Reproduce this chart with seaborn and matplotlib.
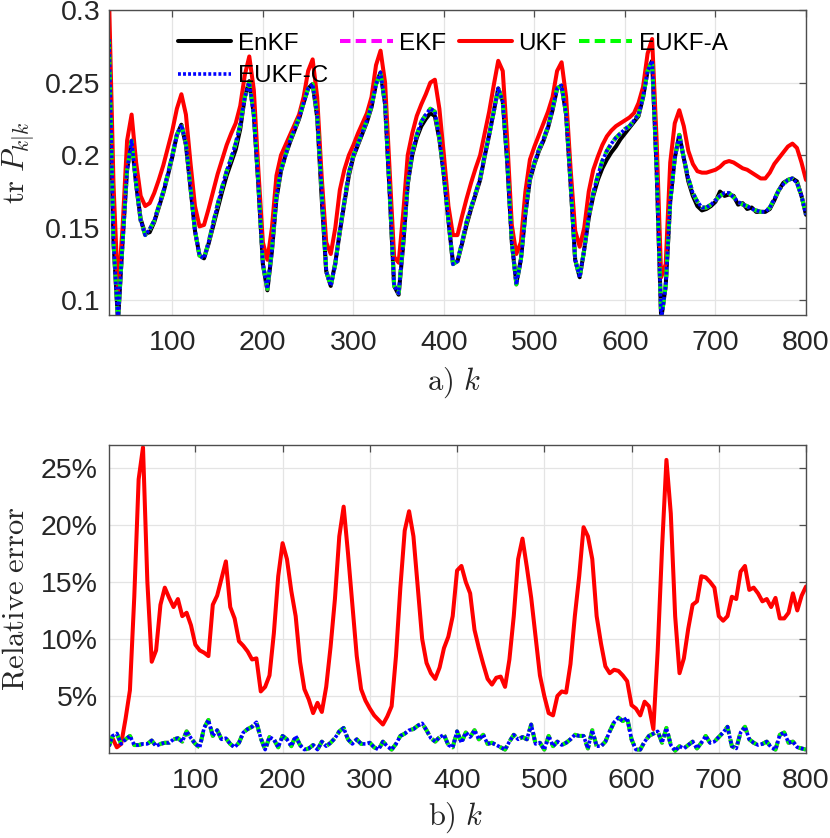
import numpy as np
import pandas as pd
import seaborn as sns
import matplotlib
matplotlib.use("Agg")
import matplotlib.pyplot as plt
from matplotlib.ticker import FuncFormatter

# ---------------- data ----------------
# top panel: trace of P_{k|k}, k = 30..800 step 5
k_top = list(range(30, 801, 5))

enkf_tr = [
    0.28, 0.14, 0.086, 0.14, 0.19, 0.21, 0.18, 0.156, 0.146, 0.147,
    0.154, 0.164, 0.174, 0.186, 0.199, 0.214, 0.221, 0.207, 0.178, 0.148,
    0.131, 0.129, 0.139, 0.151, 0.163, 0.175, 0.186, 0.195, 0.204, 0.218,
    0.24, 0.251, 0.228, 0.18, 0.125, 0.107, 0.134, 0.17, 0.189, 0.2,
    0.209, 0.217, 0.225, 0.236, 0.246, 0.249, 0.226, 0.17, 0.12, 0.11,
    0.126, 0.147, 0.167, 0.186, 0.199, 0.207, 0.215, 0.223, 0.233, 0.249,
    0.257, 0.235, 0.175, 0.11, 0.104, 0.138, 0.18, 0.2, 0.212, 0.22,
    0.225, 0.229, 0.227, 0.211, 0.186, 0.155, 0.126, 0.127, 0.139, 0.152,
    0.163, 0.173, 0.183, 0.199, 0.214, 0.23, 0.246, 0.237, 0.195, 0.14,
    0.112, 0.128, 0.16, 0.183, 0.194, 0.203, 0.21, 0.219, 0.231, 0.246,
    0.248, 0.228, 0.18, 0.128, 0.116, 0.135, 0.157, 0.172, 0.183, 0.191,
    0.197, 0.202, 0.206, 0.211, 0.215, 0.219, 0.223, 0.227, 0.24, 0.258,
    0.265, 0.19, 0.087, 0.11, 0.168, 0.198, 0.214, 0.198, 0.182, 0.172,
    0.165, 0.162, 0.163, 0.165, 0.168, 0.175, 0.172, 0.173, 0.172, 0.166,
    0.167, 0.163, 0.164, 0.161, 0.161, 0.161, 0.163, 0.169, 0.176, 0.181,
    0.183, 0.184, 0.182, 0.172, 0.159,
]

ekf_tr = [
    0.28, 0.14, 0.086, 0.14, 0.19, 0.21, 0.18, 0.155, 0.145, 0.149,
    0.155, 0.165, 0.175, 0.187, 0.2, 0.214, 0.221, 0.208, 0.178, 0.148,
    0.131, 0.129, 0.14, 0.153, 0.166, 0.178, 0.189, 0.198, 0.208, 0.221,
    0.24, 0.25, 0.228, 0.18, 0.125, 0.108, 0.135, 0.172, 0.19, 0.2,
    0.21, 0.218, 0.226, 0.236, 0.246, 0.249, 0.228, 0.175, 0.12, 0.11,
    0.125, 0.148, 0.168, 0.188, 0.2, 0.208, 0.216, 0.224, 0.234, 0.249,
    0.257, 0.235, 0.175, 0.11, 0.105, 0.14, 0.18, 0.202, 0.214, 0.223,
    0.228, 0.232, 0.23, 0.212, 0.186, 0.155, 0.125, 0.127, 0.14, 0.154,
    0.164, 0.174, 0.184, 0.2, 0.214, 0.23, 0.246, 0.237, 0.195, 0.14,
    0.111, 0.128, 0.16, 0.184, 0.195, 0.204, 0.211, 0.22, 0.232, 0.246,
    0.248, 0.228, 0.18, 0.128, 0.116, 0.135, 0.158, 0.174, 0.186, 0.196,
    0.203, 0.208, 0.212, 0.215, 0.218, 0.22, 0.224, 0.228, 0.24, 0.258,
    0.265, 0.19, 0.087, 0.11, 0.168, 0.198, 0.214, 0.198, 0.184, 0.174,
    0.168, 0.164, 0.164, 0.166, 0.169, 0.172, 0.174, 0.174, 0.171, 0.168,
    0.166, 0.165, 0.163, 0.162, 0.161, 0.161, 0.164, 0.17, 0.176, 0.18,
    0.183, 0.184, 0.181, 0.172, 0.159,
]
# EUKF-A and EUKF-C coincide with EKF in the picture
eukfa_tr = ekf_tr
eukfc_tr = ekf_tr

ukf_tr = [
    0.31, 0.18, 0.106, 0.15, 0.21, 0.228, 0.195, 0.172, 0.165, 0.167,
    0.174, 0.183, 0.193, 0.205, 0.217, 0.232, 0.242, 0.228, 0.195, 0.165,
    0.151, 0.152, 0.163, 0.175, 0.187, 0.197, 0.207, 0.215, 0.222, 0.234,
    0.255, 0.268, 0.245, 0.19, 0.14, 0.128, 0.15, 0.186, 0.2, 0.207,
    0.214, 0.221, 0.228, 0.24, 0.258, 0.266, 0.24, 0.185, 0.14, 0.132,
    0.15, 0.176, 0.19, 0.2, 0.207, 0.215, 0.222, 0.229, 0.24, 0.262,
    0.272, 0.25, 0.19, 0.13, 0.126, 0.16, 0.2, 0.215, 0.227, 0.235,
    0.242, 0.25, 0.252, 0.232, 0.2, 0.165, 0.145, 0.145, 0.158, 0.17,
    0.181, 0.191, 0.2, 0.215, 0.23, 0.248, 0.265, 0.258, 0.21, 0.152,
    0.132, 0.14, 0.175, 0.197, 0.206, 0.214, 0.222, 0.23, 0.24, 0.258,
    0.264, 0.24, 0.19, 0.148, 0.137, 0.15, 0.175, 0.19, 0.199, 0.207,
    0.213, 0.217, 0.22, 0.222, 0.224, 0.226, 0.229, 0.236, 0.247, 0.27,
    0.28, 0.21, 0.116, 0.125, 0.195, 0.222, 0.231, 0.22, 0.203, 0.194,
    0.189, 0.188, 0.188, 0.189, 0.19, 0.192, 0.195, 0.196, 0.195, 0.193,
    0.191, 0.19, 0.188, 0.186, 0.184, 0.184, 0.188, 0.194, 0.198, 0.202,
    0.206, 0.208, 0.205, 0.195, 0.183,
]

# bottom panel: relative error (%) w.r.t. EnKF, k = 1, 5, 10, ..., 800
k_err = [1] + list(range(5, 801, 5))

ukf_err = [
    0.8, 1.3, 0.5, 0.8, 3.0, 5.5, 13.7, 24.0, 26.8, 15.0,
    8.0, 9.0, 13.0, 14.5, 13.6, 12.8, 13.5, 12.0, 12.3, 11.2,
    9.5, 9.0, 8.8, 8.5, 13.0, 13.8, 15.3, 16.8, 12.8, 11.8,
    9.8, 9.4, 8.9, 8.2, 8.3, 5.4, 5.8, 6.8, 10.5, 15.5,
    18.4, 17.0, 14.2, 12.0, 8.0, 5.6, 4.7, 3.5, 4.4, 3.6,
    5.8, 9.3, 13.5, 19.0, 21.6, 17.5, 13.0, 8.5, 5.6, 4.6,
    3.9, 3.3, 2.9, 2.5, 3.2, 4.1, 8.5, 14.5, 19.5, 21.2,
    19.0, 14.5, 10.0, 7.9, 7.0, 6.5, 7.5, 9.2, 10.2, 12.0,
    16.0, 16.4, 15.0, 14.0, 10.8, 9.2, 7.8, 6.5, 6.0, 6.6,
    6.7, 5.8, 8.2, 12.0, 17.0, 18.8, 16.3, 13.6, 10.2, 6.8,
    5.0, 3.5, 3.3, 5.0, 5.4, 5.3, 7.8, 12.0, 15.5, 19.8,
    19.0, 17.0, 12.0, 9.6, 7.6, 7.0, 7.3, 7.2, 6.8, 6.3,
    4.2, 3.9, 3.3, 4.5, 4.1, 2.1, 9.0, 18.0, 25.7, 21.0,
    12.0, 7.0, 8.3, 10.9, 13.0, 13.3, 15.5, 15.4, 15.0, 14.5,
    12.0, 11.6, 12.0, 13.7, 13.5, 15.9, 16.4, 14.3, 14.5, 14.0,
    13.3, 13.5, 12.8, 13.6, 11.8, 11.8, 12.3, 14.0, 12.5, 13.8,
    14.6,
]

ekf_err = [
    0.6, 1.5, 1.7, 0.8, 1.2, 1.5, 0.7, 0.7, 0.8, 0.8,
    1.1, 0.6, 0.8, 0.9, 0.9, 1.2, 1.3, 1.0, 1.9, 1.3,
    0.8, 0.5, 2.2, 2.9, 1.5, 2.0, 1.2, 1.3, 0.8, 0.5,
    0.9, 1.8, 2.1, 2.3, 2.7, 1.3, 0.3, 1.4, 1.2, 0.5,
    1.5, 1.2, 0.6, 1.5, 0.7, 0.3, 0.4, 0.7, 0.3, 1.0,
    0.6, 0.9, 1.3, 1.9, 2.2, 1.2, 0.8, 1.2, 0.8, 0.8,
    0.9, 0.5, 0.3, 1.0, 0.6, 0.3, 0.8, 1.5, 1.7, 2.0,
    2.1, 2.4, 2.6, 2.0, 1.3, 1.0, 1.4, 1.6, 0.7, 0.5,
    1.9, 0.9, 1.8, 1.4, 2.0, 1.2, 1.6, 0.8, 0.9, 0.7,
    0.5, 0.3, 1.0, 1.6, 1.2, 1.4, 1.2, 2.5, 0.8, 0.9,
    0.3, 1.5, 0.6, 1.0, 0.7, 0.9, 1.2, 1.6, 1.5, 1.5,
    0.4, 2.0, 0.6, 0.6, 1.0, 1.9, 2.7, 3.1, 2.8, 3.1,
    1.2, 0.3, 0.3, 1.0, 1.5, 1.7, 1.9, 0.9, 2.2, 0.7,
    0.2, 0.6, 0.4, 0.7, 1.0, 0.4, 0.9, 1.5, 0.9, 1.0,
    1.4, 1.8, 2.3, 0.6, 0.4, 1.8, 2.3, 1.2, 0.9, 0.7,
    0.8, 1.0, 0.5, 0.3, 1.6, 1.8, 0.9, 1.0, 0.5, 0.4,
    0.3,
]
eukfa_err = ekf_err
eukfc_err = ekf_err

top_yticks = [0.1, 0.15, 0.2, 0.25, 0.3]
bot_yticks = [5, 10, 15, 20, 25]
xticks = [100, 200, 300, 400, 500, 600, 700, 800]

# ---------------- style ----------------
sns.set_theme(style="whitegrid")
plt.rcParams["font.family"] = ["Liberation Sans", "DejaVu Sans"]
plt.rcParams["mathtext.fontset"] = "cm"

TXT = "#262626"
SPINE = "#4d4d4d"
LW = 2.9

styles = {
    "EnKF":   dict(color="black", linestyle="-", lw=LW),
    "EKF":    dict(color="#ff00ff", linestyle=(0, (2.6, 1.3)), lw=LW),
    "UKF":    dict(color="#ff0000", linestyle="-", lw=LW),
    "EUKF-A": dict(color="#00ff00", linestyle=(0, (2.6, 1.3)), lw=LW),
    "EUKF-C": dict(color="#0000ff", linestyle=(0, (0.8, 0.6)), lw=2.6),
}

fig = plt.figure(figsize=(8.3, 8.38), dpi=100)
ax1 = fig.add_axes([0.1313, 0.6241, 0.8398, 0.3640])
ax2 = fig.add_axes([0.1313, 0.1014, 0.8398, 0.3675])

top_df = pd.DataFrame({"k": k_top, "EnKF": enkf_tr, "EKF": ekf_tr, "UKF": ukf_tr,
                       "EUKF-A": eukfa_tr, "EUKF-C": eukfc_tr})
bot_df = pd.DataFrame({"k": k_err, "EKF": ekf_err, "UKF": ukf_err,
                       "EUKF-A": eukfa_err, "EUKF-C": eukfc_err})

for name in ["EnKF", "EKF", "UKF", "EUKF-A", "EUKF-C"]:
    sns.lineplot(data=top_df, x="k", y=name, ax=ax1, label=name, **styles[name])
for name in ["EKF", "UKF", "EUKF-A", "EUKF-C"]:
    sns.lineplot(data=bot_df, x="k", y=name, ax=ax2, legend=False, **styles[name])

for ax in (ax1, ax2):
    ax.set_facecolor("white")
    ax.grid(True, color="#e4e4e4", lw=0.9)
    ax.set_axisbelow(True)
    for s in ax.spines.values():
        s.set_visible(True)
        s.set_color(SPINE)
        s.set_linewidth(1.0)
    ax.tick_params(axis="both", direction="in", length=5, width=0.9,
                   color=SPINE, top=True, right=True, labelcolor=TXT,
                   labelsize=20.5)
    ax.tick_params(axis="x", pad=11)
    ax.set_xticks(xticks)

ax1.set_xlim(30, 800)
ax1.set_ylim(0.09, 0.3)
ax1.set_yticks(top_yticks)
ax1.yaxis.set_major_formatter(FuncFormatter(lambda v, p: f"{v:g}"))
ax1.tick_params(axis="y", pad=6)

ax2.set_xlim(1, 800)
ax2.set_ylim(0, 27)
ax2.set_yticks(bot_yticks)
ax2.yaxis.set_major_formatter(FuncFormatter(lambda v, p: f"{v:.0f}%"))
ax2.tick_params(axis="y", pad=8)

ax1.set_xlabel(r"$\mathrm{a)}\ k$", fontsize=22, color=TXT)
ax1.set_ylabel(r"$\mathrm{tr}\ P_{k|k}$", fontsize=22, color=TXT)
ax2.set_xlabel(r"$\mathrm{b)}\ k$", fontsize=22, color=TXT)
ax2.set_ylabel(r"$\mathrm{Relative\ error}$", fontsize=22, color=TXT)
ax1.xaxis.set_label_coords(0.495, -0.165)
ax2.xaxis.set_label_coords(0.498, -0.155)
ax1.yaxis.set_label_coords(-0.103, 0.5)
ax2.yaxis.set_label_coords(-0.113, 0.5)

# legend filled row-wise like the reference: EnKF EKF UKF EUKF-A / EUKF-C
handles, labels = ax1.get_legend_handles_labels()
order = [labels.index(n) for n in ["EnKF", "EUKF-C", "EKF", "UKF", "EUKF-A"]]
leg = ax1.legend([handles[i] for i in order], [labels[i] for i in order],
                 loc="upper left", bbox_to_anchor=(0.099, 0.925), ncol=4,
                 frameon=False, fontsize=17.5, handlelength=2.2,
                 handletextpad=0.25, columnspacing=0.5, labelspacing=0.42,
                 borderpad=0, borderaxespad=0)
for t in leg.get_texts():
    t.set_color("black")

fig.savefig("out.png", dpi=100, facecolor="white")
